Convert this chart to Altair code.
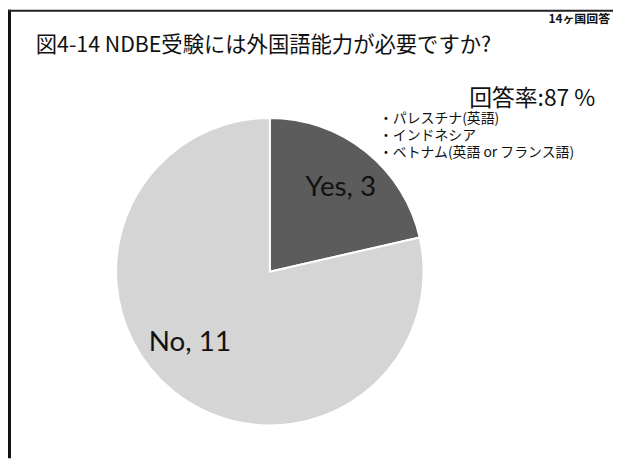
import altair as alt
import pandas as pd

# ---- data ----
answers = ["Yes", "No"]
counts = [3, 11]
slice_colors = ["#5c5c5c", "#d5d5d5"]

title_text = "図4-14 NDBE受験には外国語能力が必要ですか?"
corner_text = "14ヶ国回答"
rate_text = "回答率:87 %"
yes_countries = ["・パレスチナ(英語)", "・インドネシア", "・ベトナム(英語  or フランス語)"]

# ---- layout ----
W, H = 610, 452
CX, CY, R = 264, 264, 155
JP = "Noto Sans CJK JP"

pie_df = pd.DataFrame({"answer": answers, "count": counts,
                       "order": list(range(len(answers)))})

base = alt.Chart(pie_df).encode(
    theta=alt.Theta("count:Q", stack=True),
    order=alt.Order("order:Q"),
    x=alt.value(CX),
    y=alt.value(CY),
)

arcs = base.mark_arc(outerRadius=R, stroke="white", strokeWidth=2).encode(
    color=alt.Color("answer:N",
                    scale=alt.Scale(domain=answers, range=slice_colors),
                    legend=None)
)


def label_layer(which, dx, dy):
    return base.transform_calculate(
        label=f"datum.answer == '{which}' ? datum.answer + ', ' + datum.count : ''"
    ).mark_text(radius=110, font="Lato", fontSize=28, color="#111",
                dx=dx, dy=dy, baseline="middle", align="center").encode(
        text="label:N"
    )


yes_label = label_layer("Yes", 3, 2)
no_label = label_layer("No", -12, -14)


def note(text, x, y, size, align="left", weight="normal"):
    return alt.Chart(pd.DataFrame({"t": [text]})).mark_text(
        font=JP, fontSize=size, align=align, baseline="middle",
        color="#111", fontWeight=weight
    ).encode(text="t:N", x=alt.value(x), y=alt.value(y))


title = note(title_text, 28, 36, 21.5)
corner = note(corner_text, 607, 9, 12, align="right", weight="bold")
rate = note(rate_text, 465, 90, 23)

countries = alt.Chart(pd.DataFrame({"a": [0]})).mark_text(
    font=JP, fontSize=14, align="left", baseline="middle",
    lineHeight=17, color="#111"
).encode(text=alt.value(yes_countries), x=alt.value(374), y=alt.value(110))

frame_left = alt.Chart(pd.DataFrame({"a": [0]})).mark_rule(
    color="#111", strokeWidth=3
).encode(x=alt.value(1.5), y=alt.value(0), y2=alt.value(H))

frame_top = alt.Chart(pd.DataFrame({"a": [0]})).mark_rule(
    color="#222", strokeWidth=2
).encode(x=alt.value(0), x2=alt.value(W), y=alt.value(1))

chart = alt.layer(
    arcs, yes_label, no_label, title, corner, rate, countries,
    frame_left, frame_top
).properties(
    width=W, height=H,
    autosize=alt.AutoSizeParams(type="none"),
    padding=0,
).configure_view(stroke=None)

chart.save("out.html", embed_options={"renderer": "svg", "actions": False})
